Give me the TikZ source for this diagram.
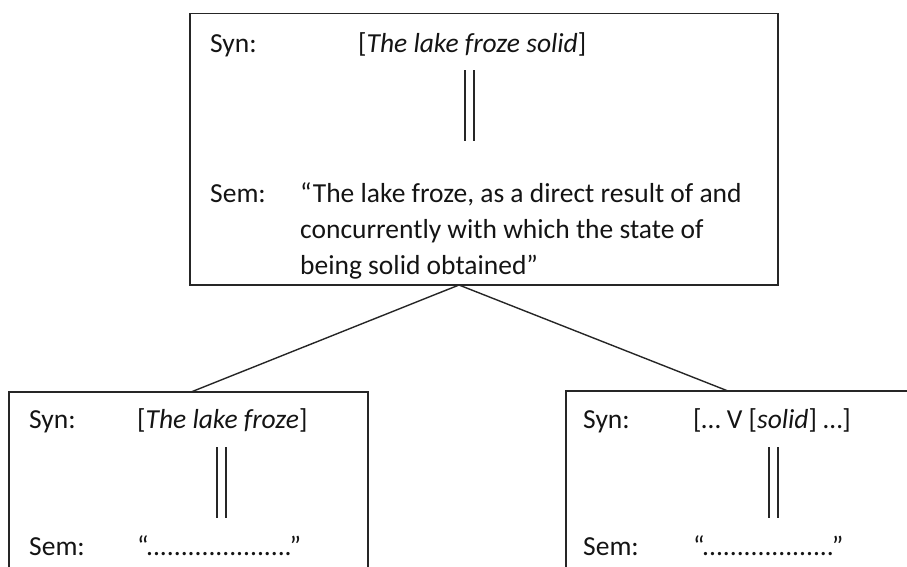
\documentclass[tikz,border=0pt]{standalone}
\usepackage{fontspec}
\setmainfont{Carlito}
\begin{document}
\begin{tikzpicture}[x=1pt,y=-1pt,
  box/.style={draw=black!85, line width=1.6pt, inner sep=0pt},
  txt/.style={anchor=base west, inner sep=0pt, font=\fontsize{27.5}{38}\selectfont, text=black!92},
  link/.style={draw=black!85, line width=1.4pt},
  bar/.style={draw=black!85, line width=1.2pt}]
\useasboundingbox (0,0) rectangle (907,566);
\clip (0,0) rectangle (907,566);
% boxes
\node[box, minimum width=588pt, minimum height=271.5pt] (top) at (484,149.25) {};
\node[box, minimum width=359pt, minimum height=248pt] (left) at (188.5,516) {};
\node[box, minimum width=424pt, minimum height=249pt] (right) at (778,515.5) {};
% connectors
\coordinate (apex) at (459,285);
\coordinate (ljoin) at (191,392);
\coordinate (rjoin) at (728,391);
\draw[link] (ljoin) -- (apex) -- (rjoin);
% top box text
\node[txt] (tsyn) at (210,52) {Syn:};
\node[txt] (tsynx) at (358,52) {[\textit{The lake froze solid}]};
\node[txt] (tsem) at (210,202) {Sem:};
\node[txt] (tsem1) at (300,202) {“The lake froze, as a direct result of and};
\node[txt] (tsem2) at (300,238) {concurrently with which the state of};
\node[txt] (tsem3) at (300,274) {being solid obtained”};
\coordinate (tb1a) at (465,70); \coordinate (tb1b) at (465,141);
\coordinate (tb2a) at (474,70); \coordinate (tb2b) at (474,141);
\draw[bar] (tb1a) -- (tb1b); \draw[bar] (tb2a) -- (tb2b);
% left box text
\node[txt] (lsyn) at (29,428) {Syn:};
\node[txt] (lsynx) at (137,428) {[\textit{The lake froze}]};
\node[txt] (lsem) at (29,555) {Sem:};
\node[txt] (lsemx) at (137,555) {“.....................”};
\coordinate (lb1a) at (217,447); \coordinate (lb1b) at (217,518);
\coordinate (lb2a) at (226,447); \coordinate (lb2b) at (226,518);
\draw[bar] (lb1a) -- (lb1b); \draw[bar] (lb2a) -- (lb2b);
% right box text
\node[txt] (rsyn) at (583,428) {Syn:};
\node[txt] (rsynx) at (693,428) {[… V [\textit{solid}] …]};
\node[txt] (rsem) at (583,555) {Sem:};
\node[txt] (rsemx) at (693,555) {“...................”};
\coordinate (rb1a) at (769,447); \coordinate (rb1b) at (769,518);
\coordinate (rb2a) at (778,447); \coordinate (rb2b) at (778,518);
\draw[bar] (rb1a) -- (rb1b); \draw[bar] (rb2a) -- (rb2b);
\end{tikzpicture}
\end{document}
